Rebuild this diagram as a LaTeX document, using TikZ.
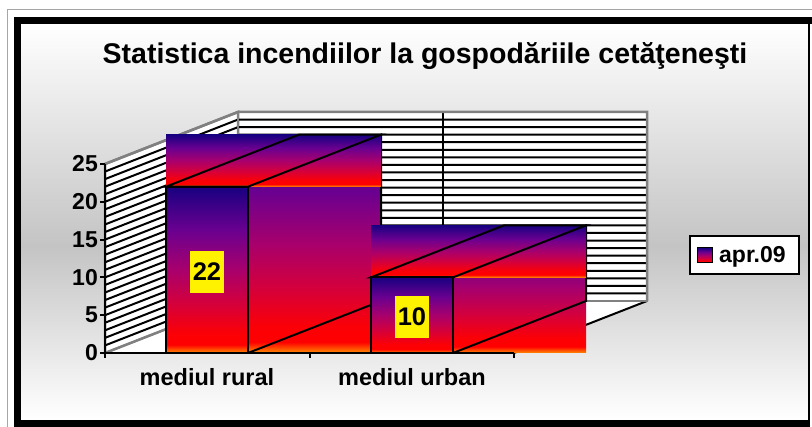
\documentclass[tikz,border=0pt]{standalone}
\usepackage{fontspec}
\setmainfont{Liberation Sans}
\usetikzlibrary{positioning}
\definecolor{fNavy}{HTML}{180080}
\definecolor{fPurple}{HTML}{6A0090}
\definecolor{fMagenta}{HTML}{A8006C}
\definecolor{fCrimson}{HTML}{D4003C}
\definecolor{fRed}{HTML}{FF0000}
\definecolor{fOrange}{HTML}{FF8C00}
\definecolor{plateGray}{HTML}{C4C4C4}
\definecolor{wallGray}{HTML}{808080}
\pgfdeclareverticalshading{fire}{100bp}{color(0bp)=(fOrange); color(25bp)=(fOrange); color(27.5bp)=(fRed); color(31bp)=(fRed!90!fCrimson); color(40bp)=(fCrimson); color(50bp)=(fMagenta); color(62bp)=(fPurple); color(75bp)=(fNavy); color(100bp)=(fNavy)}
\pgfdeclareverticalshading{plate}{100bp}{color(0bp)=(white); color(25bp)=(white); color(47bp)=(plateGray); color(75bp)=(white); color(100bp)=(white)}
\tikzstyle{edge} = [draw=black, line width=2pt, line join=miter]
\tikzstyle{hatch} = [draw=black, line width=2pt]
\tikzstyle{wall} = [draw=wallGray, line width=2.5pt, fill=white]
\tikzstyle{ticklabel} = [anchor=east, inner sep=0pt, font=\fontsize{23}{23}\selectfont\bfseries]
\tikzstyle{catlabel} = [anchor=base, inner sep=0pt, font=\fontsize{23.5}{23.5}\selectfont\bfseries]
\tikzstyle{datalabel} = [fill=yellow, minimum width=34pt, minimum height=42pt, inner sep=0pt, font=\fontsize{25.5}{25.5}\selectfont\bfseries]

\begin{document}
\begin{tikzpicture}[x=1pt, y=-1pt]
		\useasboundingbox (0,0) rectangle (812,427);
		\fill[white] (0,0) rectangle (812,427);
		
		% frame
		\draw[gray!70, line width=1pt] (7,427) -- (7,10) -- (812,10);
		\shade[shading=plate] (21,24) rectangle (809,420);
		\fill[black] (14,17) rectangle (812,24);
		\fill[black] (14,17) rectangle (21,427);
		\fill[black] (14,420) rectangle (809,427);
		\draw[black, line width=1.5pt] (809,24) -- (809,427);
		
		\node[anchor=base, inner sep=0pt, font=\fontsize{28.5}{28.5}\selectfont\bfseries] (title) at (425,64) {Statistica incendiilor la gospodăriile cetăţeneşti};
		
		% walls and floor
		\fill[white] (105,353) -- (514,353) -- (647,301) -- (238,301) -- cycle;
		\draw[black, line width=2pt] (514,353) -- (647,301);
		\draw[wall] (238,112) rectangle (647,301);
		\draw[wall] (105,164) -- (238,112) -- (238,301) -- (105,353) -- cycle;
		\foreach \v in {1,...,24}
			\draw[hatch] (105,{353-7.56*\v}) -- ++(133,-52) -- ++(409,0);
		\draw[black, line width=2pt] (442.5,112) -- (442.5,301);
		\draw[wallGray, line width=2.5pt] (105,164) -- (238,112) -- (647,112) -- (647,301);
		\draw[wallGray, line width=2.5pt] (238,112) -- (238,301);
		\draw[wallGray, line width=2pt] (105,353) -- (238,301);
		
		% bars
		\foreach \bx/\bv in {166/22, 371/10} {
			\pgfmathsetmacro\by{353-7.56*\bv}
			\shade[shading=fire] (\bx+82,\by-52) rectangle (\bx+215,353);
			\draw[edge] (\bx+82,\by) -- (\bx+215,\by-52) -- (\bx+215,301) -- (\bx+82,353);
			\shade[shading=fire] (\bx,\by-52) rectangle (\bx+215,\by);
			\draw[edge] (\bx,\by) -- (\bx+133,\by-52) -- (\bx+215,\by-52) -- (\bx+82,\by) -- cycle;
			\shade[shading=fire] (\bx,\by) rectangle (\bx+82,353);
			\draw[edge] (\bx,\by) rectangle (\bx+82,353);
		}
		
		% axes
		\draw[black, line width=2pt] (105,164) -- (105,353) -- (514,353);
		\foreach \v in {0,5,...,25} {
			\draw[black, line width=2pt] (100,{353-7.56*\v}) -- (105,{353-7.56*\v});
			\node[ticklabel] (tick\v) at (98,{353-7.56*\v}) {\v};
		}
		\foreach \tx in {105,309.5,514}
			\draw[black, line width=2pt] (\tx,353) -- (\tx,358);
		\node[catlabel] (rural) at (207,386) {mediul rural};
		\node[catlabel] (urban) at (412,386) {mediul urban};
		
		\node[datalabel] (val22) at (207,272) {22};
		\node[datalabel] (val10) at (412,317) {10};
		
		% legend
		\node[draw=black, line width=2pt, fill=white, minimum width=109pt, minimum height=38pt, inner sep=0pt] (legend) at (744.5,255) {};
		\node[draw=black, line width=1pt, shade, shading=fire, minimum size=15pt, inner sep=0pt] (legkey) at (705,255.5) {};
		\node[anchor=base west, inner sep=0pt, font=\fontsize{23}{23}\selectfont\bfseries] (legtext) at (719,263) {apr.09};
		
	\end{tikzpicture}
\end{document}
